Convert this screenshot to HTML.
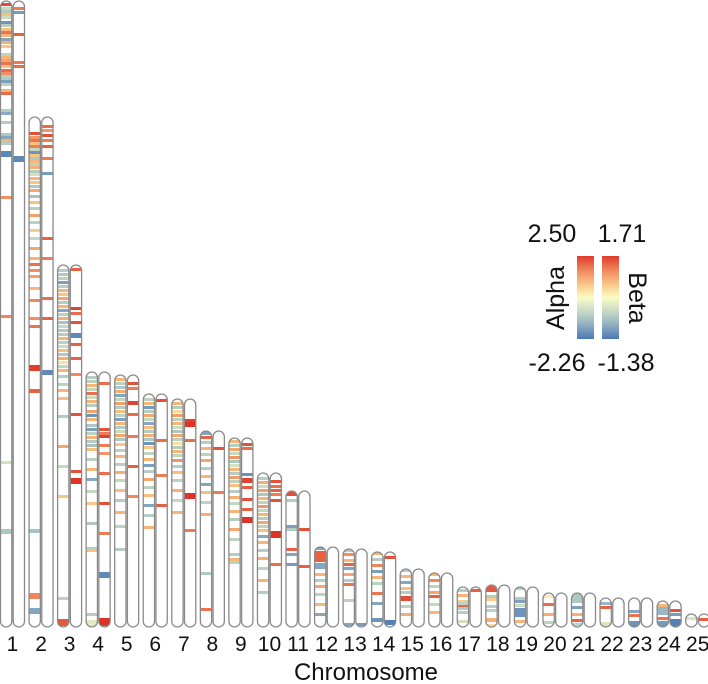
<!DOCTYPE html>
<html><head><meta charset="utf-8"><style>
html,body{margin:0;padding:0;background:#fff;}
svg{display:block;font-family:"Liberation Sans",Arial,sans-serif;}
</style></head><body>
<svg id="chart" width="708" height="684" viewBox="0 0 708 684" xmlns="http://www.w3.org/2000/svg">
<defs>
<linearGradient id="scaleGrad" x1="0" y1="1" x2="0" y2="0">
<stop offset="0" stop-color="#4a78b5"/><stop offset="0.2" stop-color="#9bb8c4"/><stop offset="0.38" stop-color="#d6e3c6"/><stop offset="0.5" stop-color="#fdfbc4"/><stop offset="0.65" stop-color="#f9c98a"/><stop offset="0.82" stop-color="#f08a60"/><stop offset="1" stop-color="#e03a2b"/>
</linearGradient>
</defs>
<g id="chroms"></g>
<g id="xlabels"></g>
<text x="366" y="680" font-size="24" text-anchor="middle" fill="#111">Chromosome</text>
<g>
<text x="552" y="242" font-size="25" text-anchor="middle" fill="#111">2.50</text>
<text x="622" y="242" font-size="25" text-anchor="middle" fill="#111">1.71</text>
<rect x="577" y="256" width="17" height="83" fill="url(#scaleGrad)"/>
<rect x="602" y="256" width="17" height="83" fill="url(#scaleGrad)"/>
<text transform="translate(564,298) rotate(-90)" font-size="25" text-anchor="middle" fill="#111">Alpha</text>
<text transform="translate(629,298) rotate(90)" font-size="25" text-anchor="middle" fill="#111">Beta</text>
<text x="557" y="371" font-size="25" text-anchor="middle" fill="#111">-2.26</text>
<text x="626" y="371" font-size="25" text-anchor="middle" fill="#111">-1.38</text>
</g>
</svg>
<script>
const chrLabels = ["1","2","3","4","5","6","7","8","9","10","11","12","13","14","15","16","17","18","19","20","21","22","23","24","25"];
const chrLen = [626,510,362,255,252,233,228,196,189,154,136,80,78,75,58,54,40,42,40,34,34,29,29,26,13];
const alphaRange = [-2.26, 2.50];
const betaRange = [-1.38, 1.71];
// bands: [position from top, value, size]
const alphaBands = [
 [[2,2.3,3],[6,-0.6,3],[9,-0.9,2],[12,0.9,2],[15,-0.5,3],[20,-1.8,2],[23,-0.8,2],[27,0.9,2],[30,1.8,2],[33,1.0,2],[37,-1.5,2],[40,1.1,2],[44,0.8,2],[52,-0.7,2],[55,1.0,2],[58,1.2,2],[61,1.8,2],[64,0.9,2],[68,1.9,2],[71,1.5,2],[74,-0.8,3],[77,-0.9,2],[79,-1.6,2],[82,-0.7,2],[88,1.0,2],[91,1.9,2],[108,-0.8,3],[111,-1.4,2],[120,-0.8,2],[132,-0.9,2],[135,-1.5,2],[138,1.0,2],[141,-0.8,2],[150,-2.0,6],[195,1.5,2],[314,1.6,2],[460,-0.4,2],[528,-0.9,5]],
 [[15,2.2,2],[19,1.4,2],[22,1.8,2],[25,0.9,2],[28,1.7,2],[31,-0.6,2],[34,-1.8,2],[37,0.8,2],[40,-0.9,2],[43,1.0,2],[46,-0.7,2],[49,1.1,2],[53,-0.8,2],[56,-0.4,2],[60,1.0,2],[64,0.8,2],[68,-0.9,2],[72,1.2,2],[78,-1.0,2],[84,0.9,2],[90,-0.8,2],[97,1.3,2],[104,-0.7,2],[112,0.7,2],[120,-0.6,2],[130,1.2,2],[140,1.0,2],[146,1.8,2],[152,1.5,2],[158,1.3,2],[170,1.0,2],[182,1.6,2],[200,1.5,2],[208,1.8,2],[248,2.4,6],[272,2.0,4],[412,-1.0,4],[476,1.6,6],[491,-1.5,6]],
 [[4,-0.8,3],[8,-0.9,2],[12,-0.7,2],[16,-1.6,2],[20,-0.8,2],[24,1.0,2],[28,0.8,2],[32,1.2,2],[36,-0.8,2],[40,1.0,2],[44,-1.5,2],[48,-0.7,2],[52,1.1,2],[56,-1.0,2],[60,-0.6,2],[64,-0.9,2],[68,-0.8,3],[72,1.0,2],[76,-0.7,2],[80,-0.5,2],[84,0.9,2],[88,-0.9,2],[92,1.1,2],[96,0.4,2],[100,-0.6,2],[104,1.0,2],[110,-0.8,2],[118,-0.7,2],[124,1.0,2],[132,0.9,2],[150,-0.8,2],[180,1.2,2],[200,-0.6,2],[230,0.8,2],[332,-0.7,2],[354,2.1,7]],
 [[4,-0.8,2],[8,-0.7,2],[12,1.0,2],[16,-0.6,2],[20,1.9,2],[24,-0.5,2],[28,1.0,2],[32,-0.8,2],[38,1.2,2],[42,-1.8,2],[46,1.0,2],[52,-0.9,2],[56,-1.6,2],[60,-0.7,2],[64,1.0,2],[68,-0.8,2],[72,-1.0,2],[76,0.9,2],[86,-0.7,2],[96,1.0,2],[106,-1.5,2],[118,-0.6,2],[130,0.8,2],[150,-0.9,2],[175,-0.8,2],[177,0.9,1],[241,-0.8,2],[248,-0.2,6]],
 [[3,1.0,2],[7,-0.7,2],[11,-0.9,2],[15,1.1,2],[19,-1.5,2],[23,-0.6,2],[27,1.3,2],[31,-0.8,2],[35,0.9,2],[39,-0.7,2],[43,-1.6,2],[47,1.0,2],[51,-0.8,2],[55,-0.5,2],[59,1.2,2],[63,-0.9,2],[68,0.8,2],[74,-0.7,2],[80,1.0,2],[88,-0.8,2],[96,1.1,2],[104,-0.6,2],[114,0.9,2],[124,-0.8,2],[136,1.0,2],[150,-0.7,2],[173,-0.8,2]],
 [[4,-0.7,2],[8,1.0,2],[12,-1.7,2],[16,-0.8,2],[20,1.2,2],[24,-0.6,2],[28,-1.5,2],[32,0.9,2],[36,-0.8,2],[40,1.1,2],[44,-0.9,2],[48,-1.8,2],[52,0.8,2],[58,-0.7,2],[64,1.0,2],[70,-1.6,2],[76,-0.8,2],[84,1.2,2],[92,-0.7,2],[100,0.9,2],[110,-1.5,2],[120,-0.8,2],[132,1.0,2]],
 [[3,1.0,2],[7,-0.8,2],[11,0.5,2],[15,1.3,2],[19,-0.7,2],[23,1.0,2],[27,-0.5,2],[31,-0.9,2],[35,1.2,2],[39,-0.7,2],[43,0.4,2],[47,-0.8,2],[51,1.0,2],[55,-0.6,2],[60,1.4,2],[66,-0.8,2],[72,0.9,2],[80,-0.7,2],[90,1.1,2],[100,-0.6,2],[112,1.0,2]],
 [[0,-1.5,4],[5,2.0,2],[10,-0.8,2],[16,1.0,2],[22,-0.7,2],[28,1.2,2],[36,-0.8,2],[44,1.0,2],[52,-1.5,2],[60,0.9,2],[70,-0.7,2],[82,1.1,2],[141,-0.9,2],[177,1.8,2]],
 [[2,1.0,2],[6,-0.8,2],[10,1.2,2],[14,-0.6,2],[18,1.4,2],[22,-0.9,2],[26,-0.4,2],[30,1.0,2],[34,-0.8,2],[38,1.3,2],[42,-0.7,2],[46,0.9,2],[52,-0.8,2],[58,1.1,2],[64,-0.6,2],[72,1.0,2],[80,-0.8,2],[90,1.2,2],[100,-0.7,2],[115,-0.8,2],[120,1.0,2],[123,-0.7,2]],
 [[4,-0.8,2],[8,1.1,2],[12,-0.5,2],[16,1.3,2],[20,-0.9,2],[24,1.0,2],[28,-0.7,2],[32,1.4,2],[36,-0.6,2],[40,1.0,2],[44,-0.8,2],[48,1.2,2],[52,-0.7,2],[56,0.9,2],[62,-1.5,2],[68,1.0,2],[76,-0.8,2],[84,1.1,2],[94,-0.7,2],[106,1.0,2],[118,-0.8,2]],
 [[0,2.2,5],[8,-0.8,2],[34,-1.6,2],[37,-0.8,2],[57,2.0,2],[62,-1.5,2],[72,-1.7,2]],
 [[0,-1.5,3],[4,2.0,11],[16,-1.5,6],[26,1.0,2],[32,-0.8,2],[38,1.2,2],[46,-0.7,2],[56,1.0,2],[66,-1.5,2]],
 [[0,-0.8,3],[4,1.5,2],[10,1.0,2],[14,2.0,2],[18,-1.5,2],[24,1.2,2],[30,-0.8,2],[34,1.8,2],[50,-0.7,2],[74,-1.5,3]],
 [[0,1.0,3],[6,-0.8,2],[12,1.6,2],[18,-1.6,2],[24,1.0,2],[30,-0.7,2],[40,1.8,2],[50,-1.5,2],[66,-1.8,4]],
 [[0,-0.8,3],[6,1.0,2],[12,-1.5,2],[18,0.9,2],[22,-0.8,2],[27,2.2,5],[36,-0.7,2],[44,1.1,2]],
 [[0,1.0,3],[6,1.6,2],[12,-0.7,2],[18,1.2,2],[22,2.0,3],[30,-0.6,2],[38,1.0,2]],
 [[2,-0.8,2],[7,1.0,2],[13,0.7,2],[15,-0.7,1],[18,1.9,2],[20,-0.8,2],[24,-0.8,2],[33,-0.4,2]],
 [[0,2.1,7],[10,-0.8,2],[13,0.7,2],[20,-0.8,2],[24,-0.7,2],[33,1.1,4],[39,0.5,2]],
 [[0,-0.8,3],[10,-0.8,2],[13,-1.6,2],[17,-0.5,2],[21,-1.8,9],[33,1.0,2]],
 [[2,0.3,2],[10,1.9,2],[20,1.1,2],[28,-0.7,2]],
 [[0,-0.9,10],[13,-1.6,2],[20,1.1,2],[26,2.0,2],[30,-0.7,2]],
 [[4,-1.2,2],[8,2.0,2],[24,-0.3,5]],
 [[12,-1.5,2],[16,1.8,2],[23,-1.8,6]],
 [[3,1.0,2],[6,-1.2,8],[16,1.8,2],[20,-1.7,6]],
 [[3,-0.3,3]]
];
const betaBands = [
 [[6,1.2,2],[10,-1.0,2],[32,1.4,2],[60,1.2,2],[64,1.3,2],[155,-1.2,6]],
 [[8,1.3,2],[12,1.0,2],[17,1.5,2],[22,1.2,2],[28,1.4,2],[40,1.2,2],[55,-1.0,2],[120,1.4,2],[140,1.2,2],[180,1.3,2],[200,1.4,2],[253,-1.2,5]],
 [[3,1.4,2],[42,1.6,3],[47,1.3,2],[56,1.5,2],[68,-1.2,5],[78,1.4,2],[92,1.4,2],[108,1.1,2],[148,1.5,2],[205,1.5,2],[213,1.7,6]],
 [[10,1.3,2],[56,1.5,2],[60,1.2,2],[63,1.6,2],[72,1.2,2],[80,1.0,2],[100,1.3,2],[130,1.5,2],[160,1.2,2],[200,-1.2,6],[246,1.71,8]],
 [[7,1.5,2],[12,1.2,2],[26,1.6,4],[38,1.3,2],[60,1.2,2],[90,1.4,2],[120,1.1,2]],
 [[5,1.5,2],[45,1.3,2],[80,1.2,2],[110,1.4,2]],
 [[20,1.6,2],[23,1.7,5],[40,1.3,2],[94,1.7,6],[130,1.2,2]],
 [[16,1.5,2],[60,1.2,2]],
 [[5,1.5,2],[9,1.3,2],[35,-1.1,2],[40,1.6,5],[48,1.4,2],[60,1.5,2],[70,1.4,2],[79,1.7,6]],
 [[7,1.5,2],[12,1.3,2],[16,1.4,2],[20,1.2,2],[26,1.5,2],[58,1.7,7],[90,1.3,2]],
 [[37,1.5,2],[74,1.4,2]],
 [],
 [[74,-1.0,2]],
 [[4,1.5,2],[68,-1.3,5]],
 [],
 [],
 [[2,1.4,2]],
 [],[],[],[],[],[],
 [[8,1.5,2],[12,-1.0,2],[18,-1.3,8]],
 [[4,1.4,2]]
];
const svgNS = "http://www.w3.org/2000/svg";
const bottomY = 627, capW = 11.3;
function xCenter(i){ return 12.5 + i*28.55; }
function yPos(i, p){ return bottomY - chrLen[i] + p; }
const stops = [[0,[74,120,181]],[0.2,[145,178,196]],[0.38,[206,224,192]],[0.5,[253,246,186]],[0.65,[249,196,128]],[0.82,[240,130,88]],[1,[222,50,38]]];
function color(v, rng){
  let t = (v - rng[0])/(rng[1]-rng[0]); t = Math.max(0, Math.min(1, t));
  for (let k=1;k<stops.length;k++){
    if (t <= stops[k][0]){
      const a = stops[k-1], b = stops[k], f = (t-a[0])/(b[0]-a[0]);
      const c = a[1].map((x,j)=>Math.round(x+(b[1][j]-x)*f));
      return "rgb("+c.join(",")+")";
    }
  }
  return "rgb(222,50,38)";
}
const g = document.getElementById("chroms");
const defs = document.querySelector("defs");
const xl = document.getElementById("xlabels");
function drawCapsule(i, side, bands, rng){
  const x = side === 0 ? xCenter(i) - 12 : xCenter(i) + 0.7;
  const top = yPos(i, 0), h = chrLen[i];
  const id = "clip" + i + "_" + side;
  const cp = document.createElementNS(svgNS, "clipPath");
  cp.setAttribute("id", id);
  const cr = document.createElementNS(svgNS, "rect");
  cr.setAttribute("x", x); cr.setAttribute("y", top); cr.setAttribute("width", capW); cr.setAttribute("height", h);
  cr.setAttribute("rx", capW/2);
  cp.appendChild(cr); defs.appendChild(cp);
  const grp = document.createElementNS(svgNS, "g");
  
  
  grp.setAttribute("clip-path", "url(#" + id + ")");
  bands.forEach(b => {
    const r = document.createElementNS(svgNS, "rect");
    
    
    r.setAttribute("x", x); r.setAttribute("y", yPos(i, b[0])); r.setAttribute("width", capW); r.setAttribute("height", Math.max(b[2], 3));
    r.setAttribute("fill", color(b[1], rng));
    grp.appendChild(r);
  });
  g.appendChild(grp);
  const out = document.createElementNS(svgNS, "rect");
  
  
  out.setAttribute("x", x); out.setAttribute("y", top); out.setAttribute("width", capW); out.setAttribute("height", h);
  out.setAttribute("rx", capW/2);
  out.setAttribute("fill", "none"); out.setAttribute("stroke", "#8a8a8a"); out.setAttribute("stroke-width", "1.3");
  g.appendChild(out);
}
for (let i=0;i<chrLabels.length;i++){
  drawCapsule(i, 0, alphaBands[i] || [], alphaRange);
  drawCapsule(i, 1, betaBands[i] || [], betaRange);
  const t = document.createElementNS(svgNS, "text");
  
  
  t.setAttribute("x", xCenter(i)); t.setAttribute("y", 651);
  t.setAttribute("font-size", "21"); t.setAttribute("text-anchor", "middle"); t.setAttribute("fill", "#111");
  t.textContent = chrLabels[i];
  xl.appendChild(t);
}
</script>
</body></html>
